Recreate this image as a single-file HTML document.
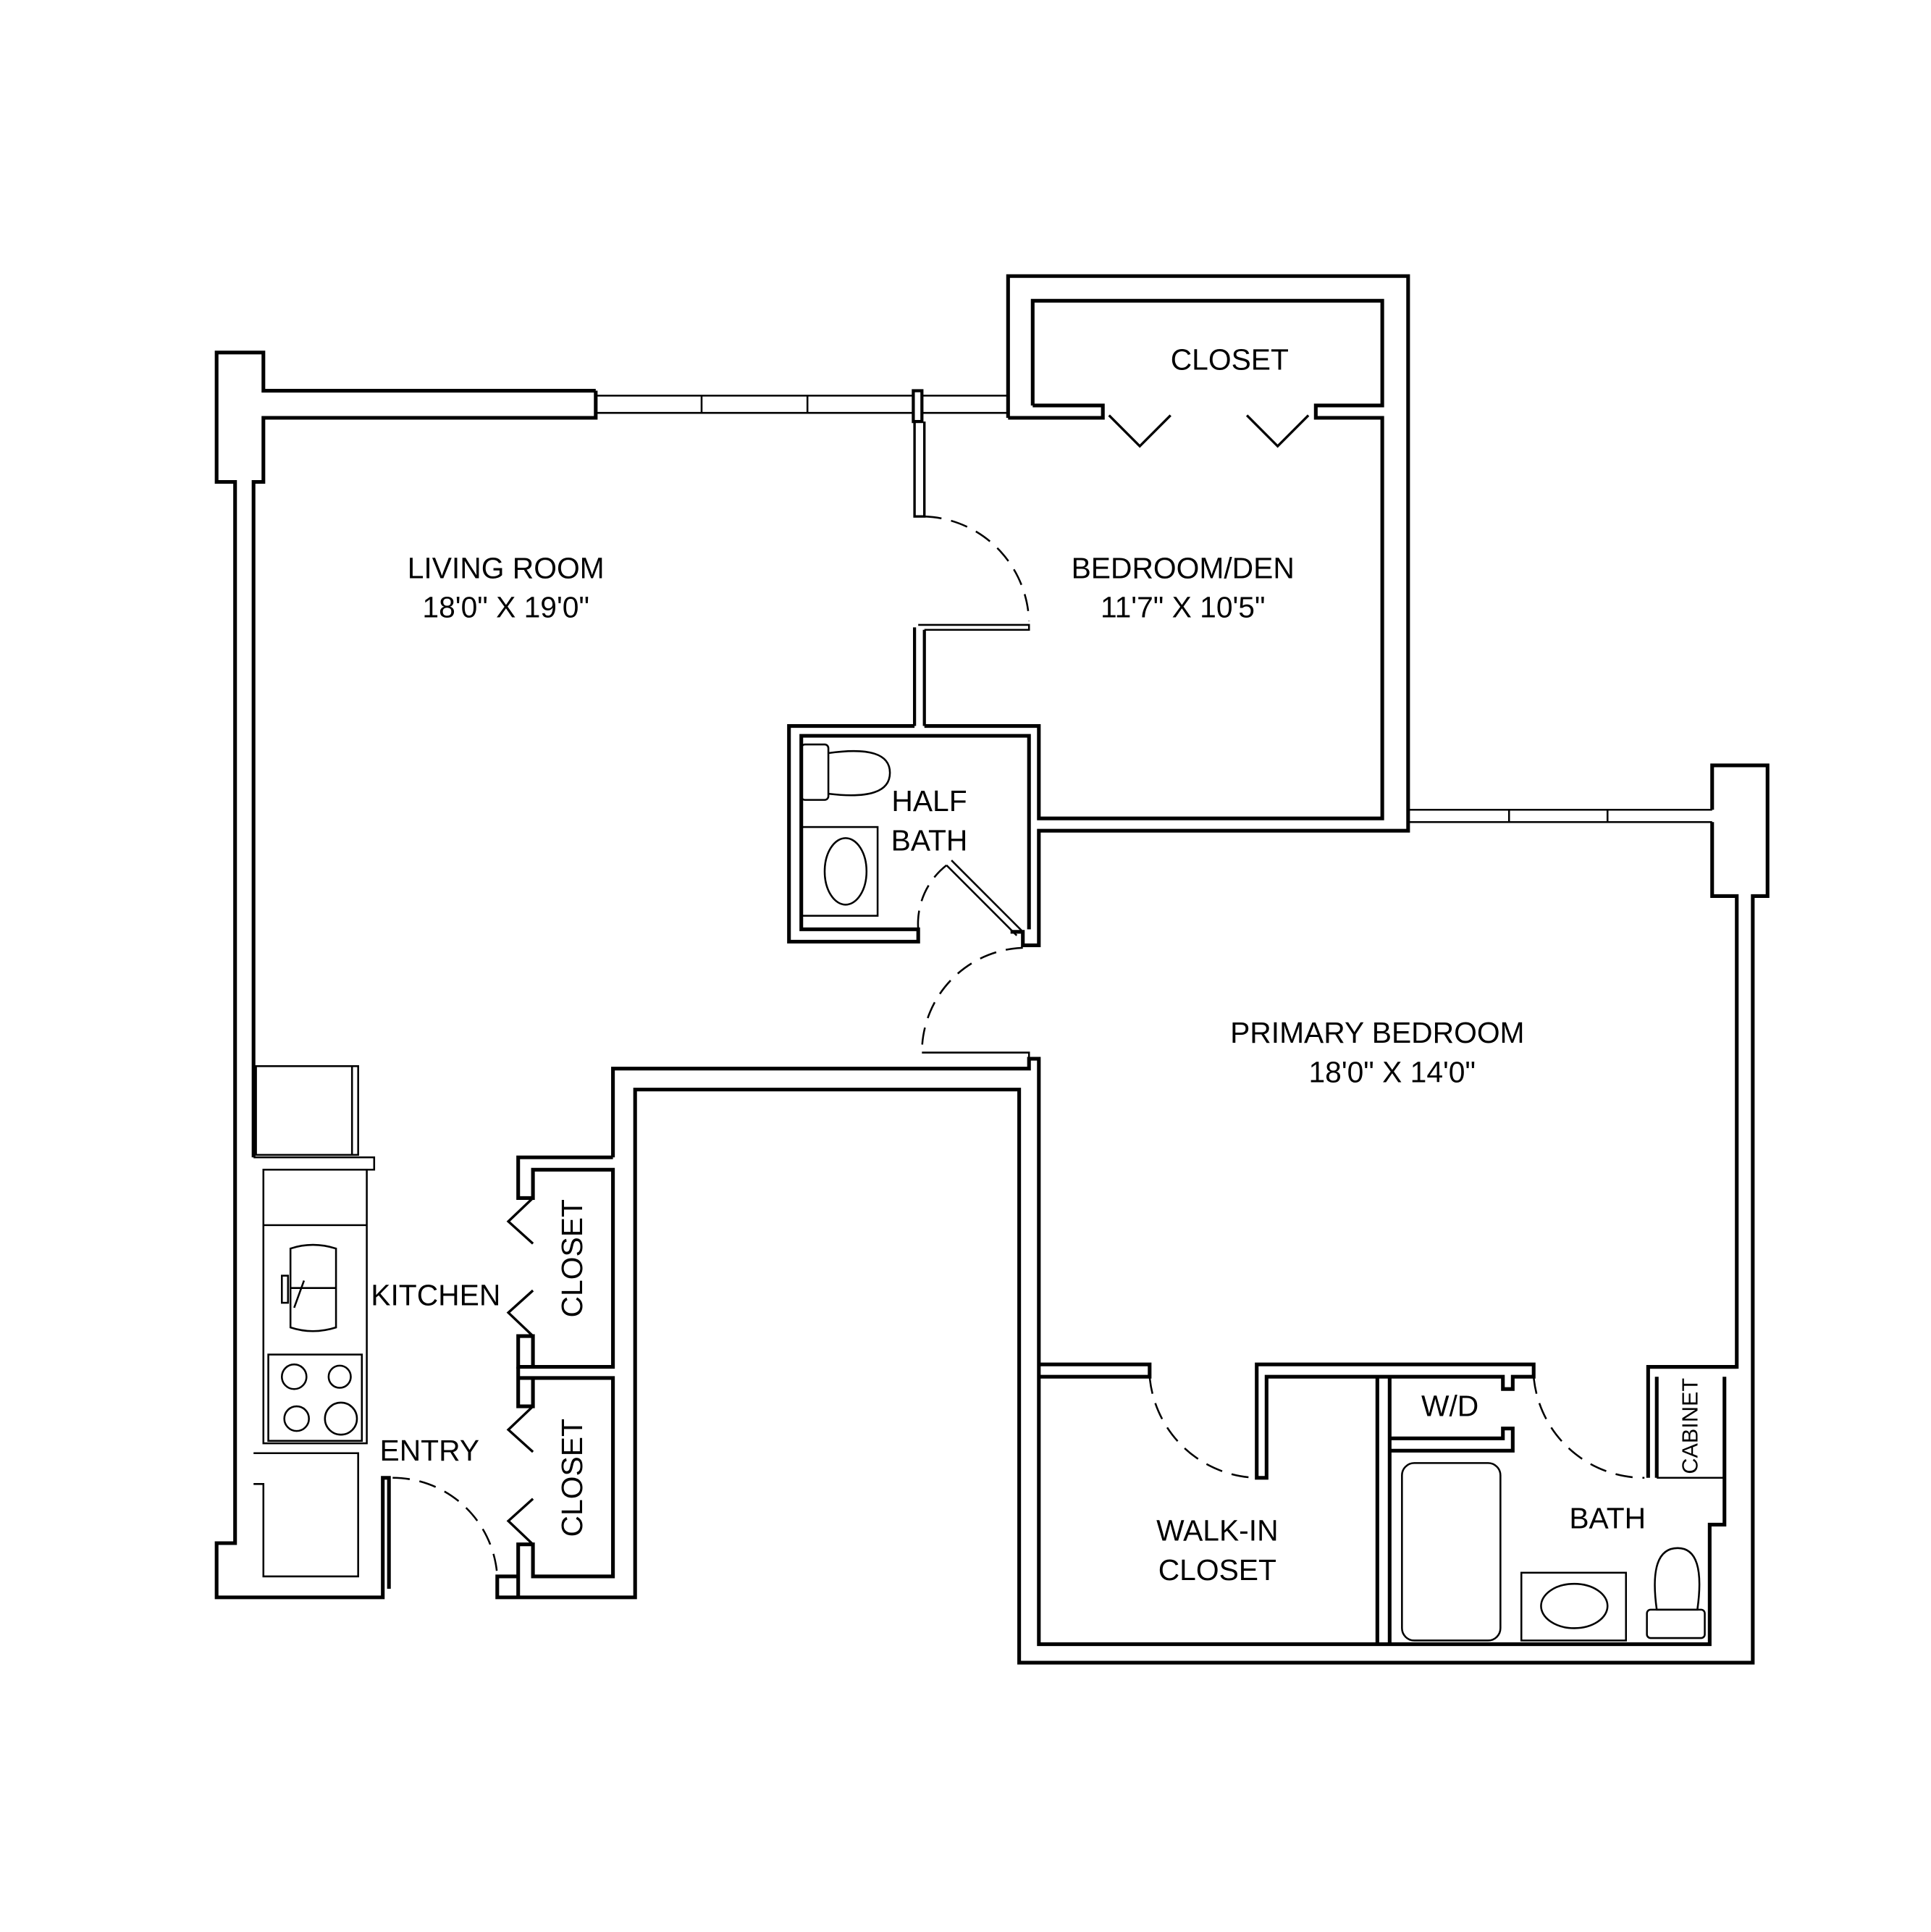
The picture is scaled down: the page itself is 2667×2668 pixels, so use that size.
<!DOCTYPE html>
<html><head><meta charset="utf-8"><style>
html,body{margin:0;padding:0;background:#fff;}
svg{display:block;}
text{font-family:"Liberation Sans",sans-serif;fill:#000;}
</style></head><body>
<svg width="2667" height="2668" viewBox="0 0 1560 1560.6" preserveAspectRatio="none" xmlns="http://www.w3.org/2000/svg">
<rect width="1560" height="1561" fill="#fff"/>
<g transform="translate(0.98,-1) scale(0.9944,0.9956)">
<g fill="none" stroke="#000" stroke-width="3" stroke-linejoin="miter">
<!-- left outer wall -->
<path d="M483,318 H213 V287 H175 V392 H190 V1253 H175 V1297 H310 V1200 H315 V1290"/>
<path d="M483,318 V340 H213 V392 H205 V940"/>
<!-- window top -->
<path d="M483,322 H741 M483,336 H741 M748,322 H818 M748,336 H818" stroke-width="1.5"/>
<path d="M569,322 V336 M655,322 V336" stroke-width="1.5"/>
<rect x="741" y="318" width="7" height="25" stroke-width="2.5"/>
<path d="M742,343 V420 H750 V343" stroke-width="2"/>
<path d="M745,508 H835 V512 H750" stroke-width="1.5"/>
<path d="M742,510 V590 M750,512 V590" stroke-width="2.5"/>
<!-- bedroom/den + closet -->
<path d="M818,340 V225 H1143 V675 H843 V768 H830 V757 H820"/>
<path d="M838,330 V245 H1122 V330 H1068 V340 H1122 V665 H843 V590 H750"/>
<path d="M838,330 H895 V340 H818"/>
<path d="M900,338 L925,363 L950,338 M1012,338 L1037,363 L1062,338" stroke-width="2"/>
<!-- half bath -->
<path d="M742,590 H640 V765 H745 V755 H650 V598 H835 V755"/>
<path d="M768,703 L825,760 M772,699 L829,756" stroke-width="1.5"/>
<!-- right pier & window -->
<path d="M1143,658 H1390 M1143,668 H1390" stroke-width="1.5"/>
<path d="M1225,658 V668 M1305,658 V668" stroke-width="1.5"/>
<path d="M1390,658 V622 H1435 V728 H1423 V1350 H827 V885 H515 V1297 H403 V1280 H420"/>
<path d="M1390,668 V728 H1410 V1110 H1338"/>
<!-- primary door panel -->
<path d="M748,855 H835 V860" stroke-width="1.5"/>
<path d="M497,940 V868 H835 V860 H843 V1335 H1388 V1238 H1400 V1118"/>
<!-- left closets -->
<path d="M497,940 H420 V973 H432 V950 H497 V1110 H432 V1085 H420 V1110 H432"/>
<path d="M420,1110 V1119 H497 V1280 H432 V1254 H420 V1297 M432,1119 V1142 H420 V1119"/>
<path d="M432,973 L412,992 L432,1010 M432,1048 L412,1066 L432,1085 M432,1142 L412,1161 L432,1179 M432,1217 L412,1235 L432,1254" stroke-width="2"/>
<!-- primary bottom interiors -->
<path d="M843,1108 H933 V1118 H843"/>
<path d="M1020,1200 V1108 H1245 V1118 H1228 V1128 H1220 V1118 H1028 V1200 Z"/>
<path d="M1118,1118 V1335 M1128,1118 V1335"/>
<path d="M1128,1168 H1220 V1160 H1228 V1178 H1128"/>
<path d="M1338,1200 V1110 H1410 M1345,1200 V1118"/>
</g>
<!-- dashed arcs -->
<g fill="none" stroke="#000" stroke-width="1.5" stroke-dasharray="14,8">
<path d="M750,420 A88,88 0 0 1 835,505"/>
<path d="M830,770 A85,85 0 0 0 748,855"/>
<path d="M768,703 A60,60 0 0 0 745,755"/>
<path d="M933,1118 A90,90 0 0 0 1020,1200"/>
<path d="M1245,1118 A90,90 0 0 0 1335,1200"/>
<path d="M318,1200 A85,85 0 0 1 403,1280"/>
</g>
<!-- fixtures -->
<g fill="none" stroke="#000" stroke-width="1.5">
<rect x="207" y="866" width="83" height="72"/><path d="M285,866 V938"/>
<path d="M205,940 H303 V950 H213"/>
<rect x="213" y="950" width="84" height="222"/><path d="M213,995 H297"/>
<path d="M235,1014 Q253,1008 272,1014 V1078 Q253,1084 235,1078 Z"/><path d="M235,1046 H272 M238,1062 L246,1040"/>
<rect x="228" y="1036" width="5" height="22"/>
<rect x="217" y="1100" width="76" height="70"/>
<circle cx="238" cy="1118" r="10"/><circle cx="275" cy="1118" r="9"/><circle cx="240" cy="1152" r="10"/><circle cx="276" cy="1152" r="13"/>
<path d="M205,1180 H290 V1280 H213 V1205 H205"/>
<rect x="650" y="605" width="22" height="45" rx="3"/><path d="M672,612 Q722,605 722,628 Q722,651 672,645"/>
<rect x="650" y="672" width="62" height="72"/><ellipse cx="686" cy="708" rx="17" ry="27"/>
<rect x="1138" y="1188" width="80" height="144" rx="10"/>
<rect x="1235" y="1277" width="85" height="55"/><ellipse cx="1278" cy="1304" rx="27" ry="18"/>
<path d="M1345,1307 Q1338,1257 1362,1257 Q1385,1257 1378,1307 Z"/><rect x="1337" y="1307" width="47" height="23" rx="3"/>
<path d="M1345,1200 H1400"/>
</g>
<!-- labels -->
<g font-size="24" text-anchor="middle">
<text x="410" y="470">LIVING ROOM</text>
<text x="410" y="502">18'0" X 19'0"</text>
<text x="960" y="470">BEDROOM/DEN</text>
<text x="960" y="502">11'7" X 10'5"</text>
<text x="998" y="301">CLOSET</text>
<text x="754" y="659">HALF</text>
<text x="754" y="691">BATH</text>
<text x="1118" y="847">PRIMARY  BEDROOM</text>
<text x="1130" y="879">18'0" X 14'0"</text>
<text x="353" y="1060">KITCHEN</text>
<text x="348" y="1186">ENTRY</text>
<text x="988" y="1251">WALK-IN</text>
<text x="988" y="1283">CLOSET</text>
<text x="1177" y="1150">W/D</text>
<text x="1305" y="1241">BATH</text>
<text transform="translate(472,1022) rotate(-90)">CLOSET</text>
<text transform="translate(472,1200) rotate(-90)">CLOSET</text>
<text font-size="18" transform="translate(1378,1158) rotate(-90)">CABINET</text>
</g>
</g>
</svg>
</body></html>
